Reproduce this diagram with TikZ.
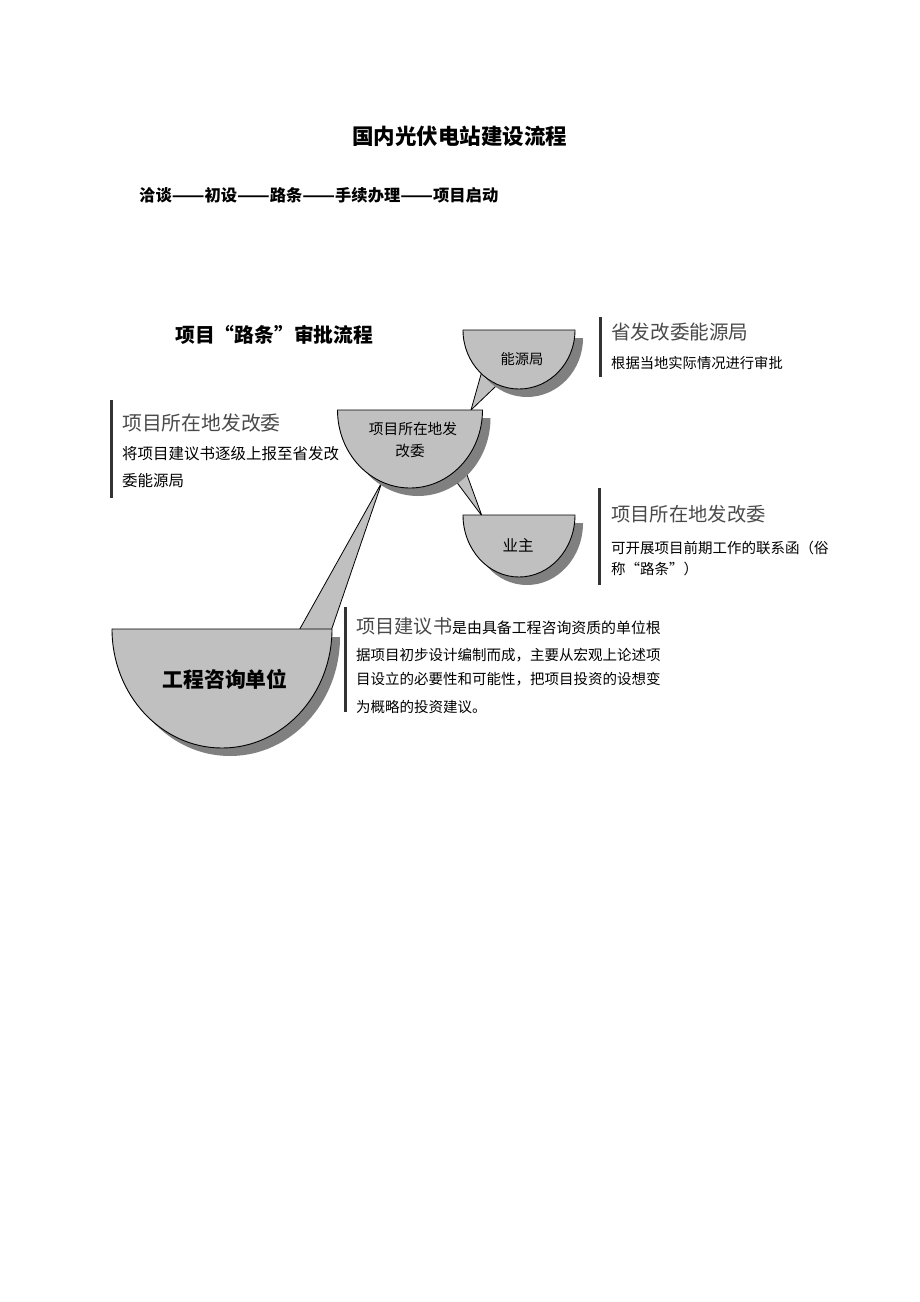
\documentclass[tikz,border=0pt]{standalone}
\usepackage{fontspec}
\setmainfont{Noto Sans CJK SC}
\usetikzlibrary{calc}
\definecolor{bowlfill}{HTML}{C0C0C0}
\definecolor{bowlshade}{HTML}{808080}
\definecolor{headgray}{HTML}{4A4A4A}
\definecolor{bargray}{HTML}{333333}
\newcommand\widedash{\scalebox{1.17}[1]{——}}
\tikzset{
  bowlbody/.style={fill=bowlfill, draw=black, line width=0.9pt},
  bowlshadow/.style={fill=bowlshade},
  wedge/.style={fill=bowlfill, draw=black, line width=0.8pt},
  sidebar/.style={draw=bargray, line width=3pt},
  txt/.style={inner sep=0pt, anchor=west, text=black},
  headtxt/.style={txt, text=headgray, font=\fontsize{19.6}{22}\selectfont},
  bodytxt/.style={txt, font=\fontsize{14.5}{17}\selectfont},
  bowltxt/.style={inner sep=0pt, anchor=center, text=black, font=\fontsize{14.5}{17}\selectfont}
}
\begin{document}
\begin{tikzpicture}[x=1pt, y=-1pt]
\useasboundingbox (0,0) rectangle (920,1302);
\fill[white] (0,0) rectangle (920,1302);

% titles
\node[txt, font=\bfseries\fontsize{21.5}{24}\selectfont] (title) at (352,136) {国内光伏电站建设流程};
\node[txt, font=\bfseries\fontsize{16.3}{19}\selectfont] (steps) at (139,195) {洽谈\widedash 初设\widedash 路条\widedash 手续办理\widedash 项目启动};
\node[txt, font=\bfseries\fontsize{19.8}{22}\selectfont] (sect) at (175,335) {项目“路条”审批流程};

% named anchor points of the bowls (top centre)
\coordinate (nyj) at (519,330);
\coordinate (fgw) at (410,410);
\coordinate (yz)  at (519,515);
\coordinate (gczx) at (222,629);

% connector wedges
\coordinate (w1a) at (484.5,362);
\coordinate (w1b) at (505.5,377);
\coordinate (w1t) at (471,410);
\coordinate (w2a) at (442,462.6);
\coordinate (w2b) at (459.6,454.6);
\coordinate (w2t) at (482,516);
\coordinate (w4a) at (297,634);
\coordinate (w4b) at (330,634);
\coordinate (w4t) at (382,482);
\draw[wedge] (w1a) -- (w1t) -- (w1b) -- cycle;
\draw[wedge] (w2a) -- (w2t) -- (w2b) -- cycle;
\draw[wedge] (w4a) -- (w4t) -- (w4b) -- cycle;

% shadows
\fill[bowlshadow] (471,338) arc[start angle=180, end angle=360, x radius=56pt, y radius=59pt] -- cycle;
\fill[bowlshadow] (345.5,418) arc[start angle=180, end angle=360, x radius=72.5pt, y radius=78pt] -- cycle;
\fill[bowlshadow] (471,523) arc[start angle=180, end angle=360, x radius=56pt, y radius=62pt] -- cycle;
\fill[bowlshadow] (120,637) arc[start angle=180, end angle=360, x radius=110pt, y radius=119pt] -- cycle;

% bowls
\filldraw[bowlbody] (463,330) arc[start angle=180, end angle=360, x radius=56pt, y radius=59pt] -- cycle;
\filldraw[bowlbody] (337.5,410) arc[start angle=180, end angle=360, x radius=72.5pt, y radius=78pt] -- cycle;
\filldraw[bowlbody] (463,515) arc[start angle=180, end angle=360, x radius=56pt, y radius=62pt] -- cycle;
\filldraw[bowlbody] (112,629) arc[start angle=180, end angle=360, x radius=110pt, y radius=119pt] -- cycle;

% bowl labels
\node[bowltxt, font=\fontsize{14.3}{17}\selectfont] (nyjt) at (522,359) {能源局};
\node[bowltxt, font=\fontsize{14.7}{17}\selectfont] (fgwt1) at (413,429) {项目所在地发};
\node[bowltxt, font=\fontsize{14.7}{17}\selectfont] (fgwt2) at (410,451) {改委};
\node[bowltxt, font=\fontsize{15.5}{18}\selectfont] (yzt) at (518,545) {业主};
\node[bowltxt, font=\bfseries\fontsize{20.8}{24}\selectfont] (gczxt) at (225,679) {工程咨询单位};

% left text block
\draw[sidebar] (111,400) -- (111,498);
\node[headtxt, font=\fontsize{19.8}{22}\selectfont] (lh) at (122,423) {项目所在地发改委};
\node[bodytxt, font=\fontsize{15.5}{18}\selectfont] (lb1) at (122,454) {将项目建议书逐级上报至省发改};
\node[bodytxt, font=\fontsize{15.5}{18}\selectfont] (lb2) at (122,481) {委能源局};

% right top block
\draw[sidebar] (600,317) -- (600,377);
\node[headtxt] (rth) at (611,332) {省发改委能源局};
\node[bodytxt, font=\fontsize{14.3}{17}\selectfont] (rtb) at (611,363) {根据当地实际情况进行审批};

% right bottom block
\draw[sidebar] (599,488) -- (599,585);
\node[headtxt, font=\fontsize{19.3}{22}\selectfont] (rbh) at (611,514) {项目所在地发改委};
\node[bodytxt] (rbb1) at (611,548) {可开展项目前期工作的联系函（俗};
\node[bodytxt] (rbb2) at (611,569) {称“路条”）};

% bottom block
\draw[sidebar] (345,607) -- (345,712);
\node[txt] (bb1) at (356,626) {{\color{headgray}\fontsize{19.2}{22}\selectfont 项目建议书}{\fontsize{14.9}{17}\selectfont 是由具备工程咨询资质的单位根}};
\node[bodytxt] (bb2) at (356,655) {据项目初步设计编制而成，主要从宏观上论述项};
\node[bodytxt] (bb3) at (356,679) {目设立的必要性和可能性，把项目投资的设想变};
\node[bodytxt] (bb4) at (356,707) {为概略的投资建议。};
\end{tikzpicture}
\end{document}
